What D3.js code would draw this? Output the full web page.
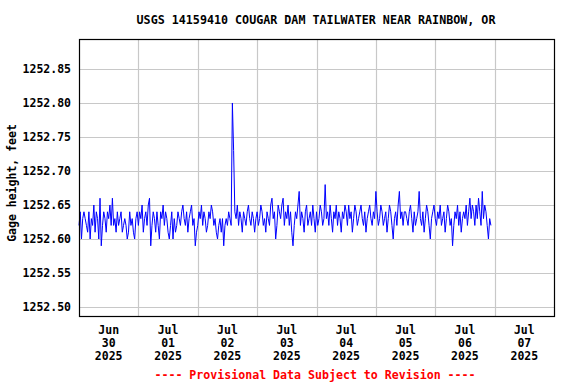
<!DOCTYPE html>
<html>
<head>
<meta charset="utf-8">
<script src="https://cdn.jsdelivr.net/npm/d3@7"></script>
<style>
  body { margin: 0; background: #fff; }
  text { font-family: "DejaVu Sans Mono", "Liberation Mono", monospace; font-weight: bold; }
</style>
</head>
<body>
<div id="chart"></div>
<script>
// gage height readings, every 30 minutes, starting each day at 00:00
const gageJun30 = [1252.62,1252.64,1252.60,1252.63,1252.64,1252.63,1252.62,1252.61,1252.64,1252.60,1252.63,1252.62,1252.65,1252.61,1252.64,1252.63,1252.60,1252.66,1252.59,1252.62,1252.64,1252.63,1252.61,1252.64,
  1252.63,1252.65,1252.62,1252.66,1252.62,1252.63,1252.61,1252.64,1252.62,1252.63,1252.64,1252.61,1252.62,1252.63,1252.62,1252.60,1252.61,1252.64,1252.62,1252.63,1252.61,1252.60,1252.63,1252.64];
const gageJul01 = [1252.62,1252.64,1252.63,1252.65,1252.61,1252.63,1252.64,1252.62,1252.65,1252.66,1252.59,1252.62,1252.64,1252.63,1252.61,1252.64,1252.62,1252.60,1252.64,1252.63,1252.65,1252.62,1252.64,1252.63,
  1252.61,1252.60,1252.62,1252.64,1252.60,1252.63,1252.61,1252.62,1252.64,1252.63,1252.62,1252.64,1252.65,1252.63,1252.62,1252.64,1252.61,1252.63,1252.64,1252.65,1252.62,1252.63,1252.59,1252.61];
const gageJul02 = [1252.62,1252.64,1252.63,1252.65,1252.62,1252.64,1252.63,1252.61,1252.62,1252.64,1252.63,1252.65,1252.64,1252.62,1252.63,1252.61,1252.60,1252.62,1252.63,1252.61,1252.63,1252.59,1252.62,1252.63,
  1252.62,1252.64,1252.63,1252.62,1252.80,1252.73,1252.64,1252.63,1252.65,1252.62,1252.64,1252.63,1252.61,1252.64,1252.63,1252.62,1252.64,1252.65,1252.63,1252.62,1252.64,1252.63,1252.61,1252.63];
const gageJul03 = [1252.64,1252.62,1252.63,1252.65,1252.64,1252.62,1252.63,1252.61,1252.64,1252.63,1252.62,1252.65,1252.66,1252.63,1252.64,1252.60,1252.62,1252.65,1252.64,1252.63,1252.65,1252.66,1252.62,1252.64,
  1252.63,1252.65,1252.62,1252.64,1252.61,1252.59,1252.62,1252.64,1252.63,1252.65,1252.67,1252.62,1252.64,1252.63,1252.61,1252.64,1252.65,1252.62,1252.63,1252.64,1252.62,1252.65,1252.63,1252.61];
const gageJul04 = [1252.64,1252.62,1252.63,1252.65,1252.64,1252.62,1252.63,1252.68,1252.63,1252.64,1252.62,1252.65,1252.63,1252.61,1252.64,1252.63,1252.65,1252.62,1252.64,1252.63,1252.61,1252.64,1252.63,1252.65,
  1252.64,1252.62,1252.65,1252.63,1252.64,1252.61,1252.63,1252.65,1252.64,1252.62,1252.63,1252.64,1252.65,1252.63,1252.62,1252.64,1252.61,1252.63,1252.64,1252.65,1252.63,1252.62,1252.64,1252.63];
const gageJul05 = [1252.67,1252.64,1252.62,1252.63,1252.65,1252.64,1252.62,1252.63,1252.64,1252.61,1252.63,1252.65,1252.64,1252.62,1252.60,1252.63,1252.64,1252.62,1252.65,1252.67,1252.63,1252.64,1252.62,1252.64,
  1252.64,1252.63,1252.62,1252.64,1252.65,1252.63,1252.61,1252.64,1252.62,1252.63,1252.64,1252.67,1252.63,1252.62,1252.64,1252.61,1252.63,1252.65,1252.64,1252.62,1252.60,1252.63,1252.64,1252.65];
const gageJul06 = [1252.63,1252.62,1252.64,1252.63,1252.65,1252.62,1252.63,1252.64,1252.61,1252.63,1252.65,1252.64,1252.62,1252.63,1252.59,1252.62,1252.64,1252.63,1252.65,1252.62,1252.64,1252.61,1252.63,1252.64,
  1252.63,1252.65,1252.62,1252.64,1252.66,1252.63,1252.65,1252.64,1252.62,1252.65,1252.63,1252.66,1252.64,1252.62,1252.67,1252.63,1252.65,1252.64,1252.62,1252.60,1252.63,1252.62];

const dayStarts = ["2025-06-30", "2025-07-01", "2025-07-02", "2025-07-03", "2025-07-04", "2025-07-05", "2025-07-06"];
const dayValues = [gageJun30, gageJul01, gageJul02, gageJul03, gageJul04, gageJul05, gageJul06];
const yTicks = [1252.50, 1252.55, 1252.60, 1252.65, 1252.70, 1252.75, 1252.80, 1252.85];
const xTickDays = ["2025-06-30", "2025-07-01", "2025-07-02", "2025-07-03", "2025-07-04", "2025-07-05", "2025-07-06", "2025-07-07"];
const xDomain = ["2025-06-30", "2025-07-08"];
const yDomain = [1252.4868, 1252.8941];

const parseDay = d3.utcParse("%Y-%m-%d");
const stepMs = 30 * 60 * 1000;

// build the series
let data = [];
dayValues.forEach((vals, i) => {
  let t0 = parseDay(dayStarts[i]).getTime();
  vals.forEach((v, j) => data.push({ t: new Date(t0 + j * stepMs), v: v }));
});

const W = 576, H = 384;
const margin = { top: 39, right: 22, bottom: 68, left: 79 };
const width = W - margin.left - margin.right;
const height = H - margin.top - margin.bottom;

const svg = d3.select("#chart").append("svg")
  .attr("width", W)
  .attr("height", H);

const g = svg.append("g")
  .attr("transform", "translate(" + margin.left + "," + margin.top + ")");

const x = d3.scaleUtc()
  .domain(xDomain.map(parseDay))
  .range([0, width]);

const y = d3.scaleLinear()
  .domain(yDomain)
  .range([height, 0]);

// horizontal grid
g.append("g")
  .selectAll("line")
  .data(yTicks)
  .enter().append("line")
  .attr("x1", 0).attr("x2", width)
  .attr("y1", d => Math.round(y(d)) + 0.5)
  .attr("y2", d => Math.round(y(d)) + 0.5)
  .attr("stroke", "#c8c8c8")
  .attr("stroke-width", 1.2);

// vertical grid at midnight
const gridDays = xTickDays.slice(1).map(parseDay);
g.append("g")
  .selectAll("line")
  .data(gridDays)
  .enter().append("line")
  .attr("x1", d => Math.round(x(d)) + 0.5)
  .attr("x2", d => Math.round(x(d)) + 0.5)
  .attr("y1", 0).attr("y2", height)
  .attr("stroke", "#c8c8c8")
  .attr("stroke-width", 1.2);

// y axis labels
const yAxis = d3.axisLeft(y)
  .tickValues(yTicks)
  .tickSize(0)
  .tickPadding(8)
  .tickFormat(d3.format(".2f"));
g.append("g")
  .call(yAxis)
  .call(s => s.select(".domain").remove())
  .selectAll("text")
  .style("font-family", "DejaVu Sans Mono, monospace")
  .style("font-weight", "bold")
  .style("font-size", "11.5px")
  .attr("fill", "#000");

// x axis labels, centered at noon of each day
const fmtMon = d3.utcFormat("%b"), fmtDay = d3.utcFormat("%d"), fmtYr = d3.utcFormat("%Y");
const noon = xTickDays.map(d => new Date(parseDay(d).getTime() + 12 * 3600 * 1000));
const xl = g.append("g")
  .selectAll("text")
  .data(noon)
  .enter().append("text")
  .attr("text-anchor", "middle")
  .style("font-size", "11.5px")
  .attr("transform", d => "translate(" + x(d) + "," + (height + 18) + ")");
xl.append("tspan").attr("x", 0).attr("y", 0).text(d => fmtMon(d));
xl.append("tspan").attr("x", 0).attr("y", 13).text(d => fmtDay(d));
xl.append("tspan").attr("x", 0).attr("y", 26).text(d => fmtYr(d));

// data line
const line = d3.line()
  .x(d => x(d.t))
  .y(d => y(d.v));

g.append("path")
  .datum(data)
  .attr("fill", "none")
  .attr("stroke", "#0000ff")
  .attr("stroke-width", 1)
  .attr("d", line);

// frame
g.append("rect")
  .attr("x", 0.5).attr("y", 0.5)
  .attr("width", width).attr("height", height)
  .attr("fill", "none")
  .attr("stroke", "#000")
  .attr("stroke-width", 1.2);

// title
svg.append("text")
  .attr("x", 316).attr("y", 24)
  .attr("text-anchor", "middle")
  .style("font-size", "11.7px")
  .text("USGS 14159410 COUGAR DAM TAILWATER NEAR RAINBOW, OR");

// y axis title
svg.append("text")
  .attr("transform", "translate(16,183) rotate(-90)")
  .attr("text-anchor", "middle")
  .style("font-size", "11.5px")
  .text("Gage height, feet");

// footer
svg.append("text")
  .attr("x", 315).attr("y", 379)
  .attr("text-anchor", "middle")
  .attr("fill", "#ff0000")
  .style("font-size", "11.6px")
  .text("---- Provisional Data Subject to Revision ----");
</script>
</body>
</html>
